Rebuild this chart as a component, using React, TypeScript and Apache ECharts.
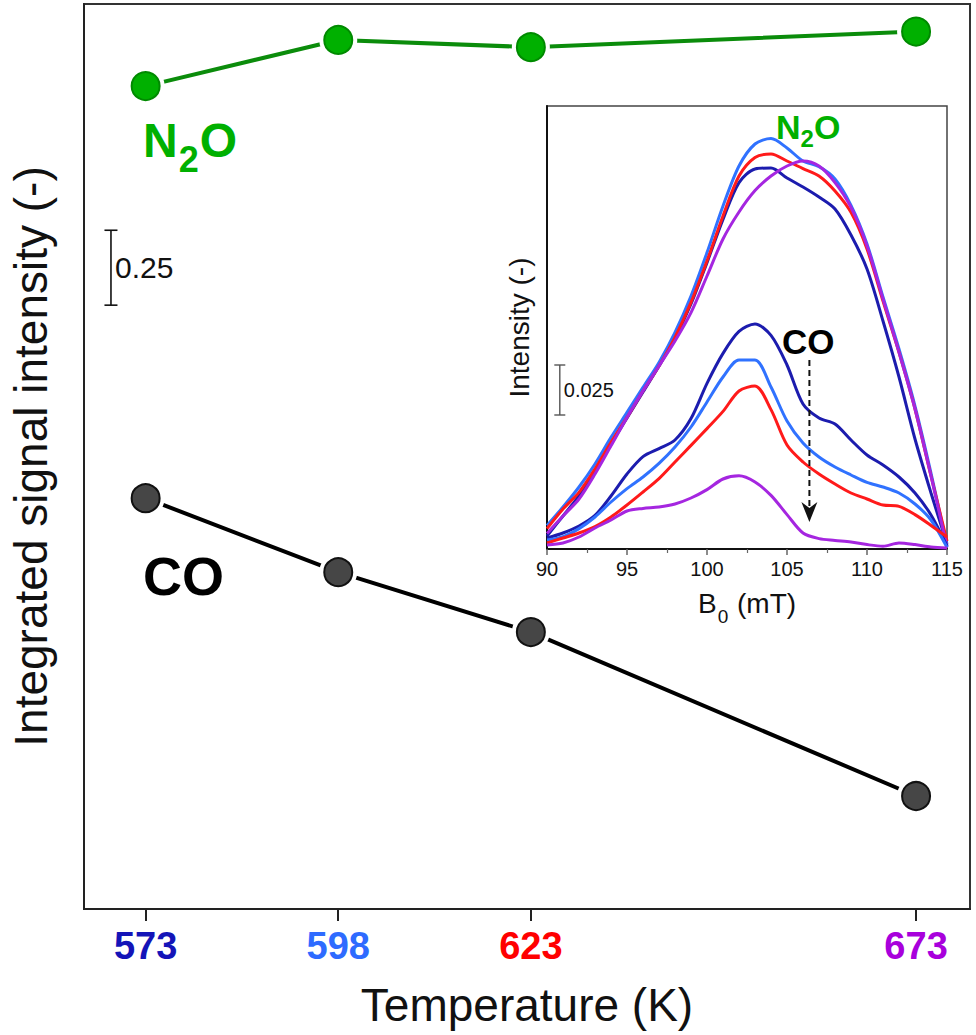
import React, { useEffect, useRef } from "react";
import * as echarts from "echarts";

// ---------- main panel data ----------
const temperatures = [573, 598, 623, 673];
const tempTickLabels = ["573", "598", "623", "673"];
const tempTickColors = ["#1414b8", "#2e6bff", "#ff0000", "#a800dc"];
const n2oIntegrated = [2.746, 2.9, 2.876, 2.928];
const coIntegrated = [1.371, 1.124, 0.924, 0.377];

// ---------- inset data (EPR spectra) ----------
const fieldB0 = [90, 91, 92, 93, 94, 95, 96, 97, 98, 99, 100, 101, 102, 103, 104, 105, 106, 107, 108, 109, 110, 111, 112, 113, 114, 115];
const n2o573 = [0.0065, 0.0165, 0.0265, 0.0385, 0.0525, 0.0655, 0.0785, 0.0915, 0.1055, 0.1225, 0.1432, 0.1648, 0.1832, 0.19, 0.1905, 0.1855, 0.181, 0.176, 0.17, 0.157, 0.14, 0.114, 0.086, 0.055, 0.028, 0.0025];
const n2o598 = [0.0118, 0.021, 0.031, 0.0425, 0.0558, 0.0683, 0.0808, 0.0933, 0.1083, 0.1265, 0.1482, 0.1715, 0.1915, 0.2025, 0.2052, 0.2005, 0.194, 0.1912, 0.185, 0.1718, 0.1525, 0.126, 0.1, 0.0715, 0.038, 0.0015];
const n2o623 = [0.0102, 0.02, 0.0283, 0.04, 0.0533, 0.0658, 0.079, 0.0915, 0.1058, 0.1233, 0.144, 0.1665, 0.1865, 0.1958, 0.1975, 0.194, 0.1902, 0.1865, 0.179, 0.1683, 0.15, 0.124, 0.0983, 0.07, 0.0365, 0.004];
const n2o673 = [0.0078, 0.0165, 0.025, 0.0375, 0.0516, 0.0658, 0.079, 0.0915, 0.104, 0.1182, 0.1365, 0.155, 0.1685, 0.1792, 0.1865, 0.1915, 0.194, 0.1915, 0.1832, 0.1708, 0.1515, 0.125, 0.0983, 0.07, 0.0365, 0.0008];
const co573 = [0.0055, 0.008, 0.0115, 0.0168, 0.0265, 0.0375, 0.0462, 0.0502, 0.0545, 0.0652, 0.0828, 0.0978, 0.1088, 0.1125, 0.1068, 0.092, 0.0725, 0.0655, 0.0625, 0.0545, 0.047, 0.042, 0.036, 0.028, 0.017, 0.0015];
const co598 = [0.0045, 0.0062, 0.0102, 0.016, 0.0235, 0.0302, 0.036, 0.0428, 0.051, 0.061, 0.0735, 0.086, 0.0945, 0.0945, 0.081, 0.064, 0.053, 0.046, 0.041, 0.037, 0.0333, 0.031, 0.028, 0.0225, 0.0145, 0.0008];
const co623 = [0.003, 0.0055, 0.008, 0.0112, 0.016, 0.022, 0.0285, 0.0352, 0.0435, 0.0518, 0.0602, 0.0688, 0.079, 0.0815, 0.0697, 0.052, 0.0435, 0.0375, 0.0325, 0.028, 0.025, 0.022, 0.0213, 0.0172, 0.0118, 0.006];
const co673 = [0.002, 0.003, 0.006, 0.0105, 0.0145, 0.019, 0.0203, 0.021, 0.0225, 0.0255, 0.0297, 0.035, 0.0366, 0.0335, 0.0268, 0.0172, 0.008, 0.0052, 0.0043, 0.0035, 0.0022, 0.0014, 0.003, 0.0022, 0.001, 0.0005];
const curveColors = ["#1c1cae", "#3072ff", "#ff1a1a", "#a526e0"];

// scale bars: [x, from, to]
const mainScaleBar = [568.5, 2.015, 2.265];
const mainScaleLabel = "0.25";
const insetScaleBar = [90.8, 0.067, 0.092];
const insetScaleLabel = "0.025";
// CO decrease arrow in inset: [x, from, to]
const insetArrow = [106.4, 0.0945, 0.0135];

const FONT = "Liberation Sans, Arial, Helvetica, sans-serif";
const N2O_GREEN = "#00b000";

function pairs(xs: number[], ys: number[]) {
  return xs.map((x, i) => [x, ys[i]]);
}

function scaleBarSeries(bar: number[], label: string, xi: number, yi: number, cap: number, fontSize: number, color: string, lw: number) {
  return {
    type: "custom",
    xAxisIndex: xi,
    yAxisIndex: yi,
    silent: true,
    clip: false,
    z: 10,
    data: [bar],
    renderItem: (_p: any, api: any) => {
      const a = api.coord([api.value(0), api.value(1)]);
      const b = api.coord([api.value(0), api.value(2)]);
      const st = { stroke: color, lineWidth: lw };
      return {
        type: "group",
        children: [
          { type: "line", shape: { x1: a[0], y1: a[1], x2: b[0], y2: b[1] }, style: st },
          { type: "line", shape: { x1: a[0] - cap, y1: a[1], x2: a[0] + cap, y2: a[1] }, style: st },
          { type: "line", shape: { x1: b[0] - cap, y1: b[1], x2: b[0] + cap, y2: b[1] }, style: st },
          {
            type: "text",
            x: a[0] + 4,
            y: (a[1] + b[1]) / 2,
            style: { text: label, fontSize, fontFamily: FONT, fill: "#111", align: "left", verticalAlign: "middle" },
          },
        ],
      };
    },
  };
}

export default function App() {
  const ref = useRef<HTMLDivElement>(null);
  useEffect(() => {
    if (!ref.current) return;
    const chart = echarts.init(ref.current, undefined, { renderer: "svg" });

    const haloAndMarkers = (ys: number[], fill: string, border: string, lineColor: string) => [
      {
        type: "line",
        xAxisIndex: 0,
        yAxisIndex: 0,
        data: pairs(temperatures, ys),
        symbol: "none",
        lineStyle: { color: lineColor, width: 4 },
        z: 2,
      },
      {
        type: "scatter",
        xAxisIndex: 0,
        yAxisIndex: 0,
        data: pairs(temperatures, ys),
        symbolSize: 38,
        itemStyle: { color: "#ffffff", opacity: 1 },
        silent: true,
        z: 3,
      },
      {
        type: "scatter",
        xAxisIndex: 0,
        yAxisIndex: 0,
        data: pairs(temperatures, ys),
        symbolSize: 28,
        itemStyle: { color: fill, borderColor: border, borderWidth: 2, opacity: 1 },
        z: 4,
      },
    ];

    const insetCurves = [n2o573, n2o598, n2o623, n2o673, co573, co598, co623, co673].map((ys, i) => ({
      type: "line",
      xAxisIndex: 1,
      yAxisIndex: 1,
      data: pairs(fieldB0, ys),
      symbol: "none",
      smooth: 0.3,
      lineStyle: { color: curveColors[i % 4], width: 3 },
      z: 5,
    }));

    const arrowSeries = {
      type: "custom",
      xAxisIndex: 1,
      yAxisIndex: 1,
      silent: true,
      clip: false,
      z: 12,
      data: [insetArrow],
      renderItem: (_p: any, api: any) => {
        const a = api.coord([api.value(0), api.value(1)]);
        const b = api.coord([api.value(0), api.value(2)]);
        const head = 20;
        return {
          type: "group",
          children: [
            {
              type: "line",
              shape: { x1: a[0], y1: a[1], x2: b[0], y2: b[1] - head + 4 },
              style: { stroke: "#111", lineWidth: 2, lineDash: [6, 4] },
            },
            {
              type: "polygon",
              shape: {
                points: [
                  [b[0], b[1]],
                  [b[0] - 8, b[1] - head],
                  [b[0], b[1] - head + 6],
                  [b[0] + 8, b[1] - head],
                ],
              },
              style: { fill: "#111" },
            },
          ],
        };
      },
    };

    const richTemp: any = {};
    tempTickColors.forEach((c, i) => {
      richTemp["t" + i] = { color: c, fontSize: 38, fontWeight: "bold", fontFamily: FONT };
    });

    const option: any = {
      animation: false,
      backgroundColor: "#ffffff",
      textStyle: { fontFamily: FONT },
      grid: [
        { left: 80, top: 4, width: 890, height: 905, show: true, borderColor: "#333", borderWidth: 2, backgroundColor: "transparent", containLabel: false },
        { left: 547, top: 106, width: 400, height: 443, show: true, borderColor: "#444", borderWidth: 1.5, backgroundColor: "#ffffff", containLabel: false },
      ],
      xAxis: [
        {
          type: "value",
          gridIndex: 0,
          min: 565,
          max: 680,
          axisLine: { show: true, onZero: false, lineStyle: { color: "#222", width: 2 } },
          axisTick: { show: true, inside: false, length: 12, customValues: temperatures, lineStyle: { color: "#222", width: 2 } },
          axisLabel: {
            show: true,
            customValues: temperatures,
            margin: 18,
            formatter: (v: number) => {
              const i = temperatures.indexOf(v);
              return i < 0 ? "" : `{t${i}|${tempTickLabels[i]}}`;
            },
            rich: richTemp,
          },
          splitLine: { show: false },
          name: "Temperature (K)",
          nameLocation: "middle",
          nameGap: 73,
          nameTextStyle: { fontSize: 46, color: "#111", fontFamily: FONT },
        },
        {
          type: "value",
          gridIndex: 1,
          min: 90,
          max: 115,
          interval: 5,
          axisLine: { show: true, onZero: false, lineStyle: { color: "#111", width: 2 } },
          axisTick: { show: true, inside: false, length: 6, lineStyle: { color: "#666", width: 1.5 } },
          minorTick: { show: true, splitNumber: 2, length: 4, lineStyle: { color: "#666", width: 1.2 } },
          axisLabel: { show: true, fontSize: 20, color: "#111", margin: 10, fontFamily: FONT },
          splitLine: { show: false },
          minorSplitLine: { show: false },
          name: "{b|B}{s|0}{b| (mT)}",
          nameLocation: "middle",
          nameGap: 40,
          nameTextStyle: {
            fontFamily: FONT,
            color: "#111",
            rich: {
              b: { fontSize: 28, color: "#111", fontFamily: FONT, verticalAlign: "top", lineHeight: 30 },
              s: { fontSize: 19, color: "#111", fontFamily: FONT, verticalAlign: "top", lineHeight: 19, padding: [18, 1, 0, 1] },
            },
          },
        },
      ],
      yAxis: [
        {
          type: "value",
          gridIndex: 0,
          min: 0,
          max: 3.02,
          axisLine: { show: true, onZero: false, lineStyle: { color: "#222", width: 2 } },
          axisTick: { show: false },
          axisLabel: { show: false },
          splitLine: { show: false },
          name: "Integrated signal intensity (-)",
          nameLocation: "middle",
          nameGap: 30,
          nameRotate: 90,
          nameTextStyle: { fontSize: 46, color: "#111", fontFamily: FONT },
        },
        {
          type: "value",
          gridIndex: 1,
          min: 0,
          max: 0.2215,
          axisLine: { show: true, onZero: false, lineStyle: { color: "#111", width: 2 } },
          axisTick: { show: false },
          axisLabel: { show: false },
          splitLine: { show: false },
          name: "Intensity (-)",
          nameLocation: "middle",
          nameGap: 14,
          nameRotate: 90,
          nameTextStyle: { fontSize: 28, color: "#111", fontFamily: FONT },
        },
      ],
      series: [
        ...haloAndMarkers(n2oIntegrated, "#00b000", "#008a00", "#0b8c0b"),
        ...haloAndMarkers(coIntegrated, "#464646", "#111111", "#000000"),
        ...insetCurves,
        scaleBarSeries(mainScaleBar, mainScaleLabel, 0, 0, 6.5, 30, "#111", 1.6),
        scaleBarSeries(insetScaleBar, insetScaleLabel, 1, 1, 5.5, 20, "#555", 1.4),
        arrowSeries,
      ],
      graphic: [
        {
          type: "text",
          x: 143,
          y: 116,
          z: 20,
          style: {
            text: "{n|N}{s|2}{n|O}",
            fontFamily: FONT,
            rich: {
              n: { fontSize: 48, fontWeight: "bold", fill: N2O_GREEN, fontFamily: FONT, verticalAlign: "top", lineHeight: 48 },
              s: { fontSize: 36, fontWeight: "bold", fill: N2O_GREEN, fontFamily: FONT, verticalAlign: "top", lineHeight: 36, padding: [25, 1, 0, 1] },
            },
          },
        },
        {
          type: "text",
          x: 143,
          y: 576,
          z: 20,
          style: { text: "CO", fontSize: 54, fontWeight: "bold", fill: "#000", fontFamily: FONT, verticalAlign: "middle" },
        },
        {
          type: "text",
          x: 776,
          y: 110,
          z: 20,
          style: {
            text: "{n|N}{s|2}{n|O}",
            fontFamily: FONT,
            rich: {
              n: { fontSize: 34, fontWeight: "bold", fill: N2O_GREEN, fontFamily: FONT, verticalAlign: "top", lineHeight: 34 },
              s: { fontSize: 24, fontWeight: "bold", fill: N2O_GREEN, fontFamily: FONT, verticalAlign: "top", lineHeight: 24, padding: [16, 0, 0, 0] },
            },
          },
        },
        {
          type: "text",
          x: 782,
          y: 341,
          z: 20,
          style: { text: "CO", fontSize: 35, fontWeight: "bold", fill: "#000", fontFamily: FONT, verticalAlign: "middle" },
        },
      ],
    };

    chart.setOption(option);
    return () => chart.dispose();
  }, []);

  return <div ref={ref} style={{ position: "absolute", left: 0, top: 0, width: 976, height: 1035, background: "#fff" }} />;
}
